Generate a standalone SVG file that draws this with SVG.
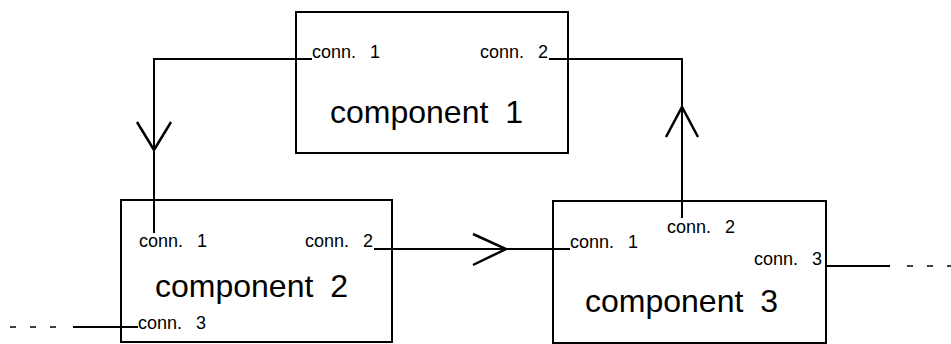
<svg xmlns="http://www.w3.org/2000/svg" width="951" height="344" viewBox="0 0 951 344">
<style>
.box{fill:#fff;stroke:#000;stroke-width:2}
.ln{fill:none;stroke:#000;stroke-width:2}
.dash{fill:none;stroke:#000;stroke-width:1.5;stroke-dasharray:6 14}
.arr{fill:none;stroke:#000;stroke-width:2.5;stroke-linejoin:miter}
.s{font-family:"Liberation Sans",Arial,Helvetica,sans-serif;font-size:18px;word-spacing:9px;fill:#000}
.l{font-family:"Liberation Sans",Arial,Helvetica,sans-serif;font-size:32px;word-spacing:8px;fill:#000}
</style>
<rect width="951" height="344" fill="#fff"/>
<g id="component1">
<rect class="box" x="296" y="12" width="272" height="141"/>
<text class="s" x="312" y="58">conn. 1</text>
<text class="s" x="548" y="58" text-anchor="end">conn. 2</text>
<text class="l" x="330" y="123">component 1</text>
</g>
<g id="component2">
<rect class="box" x="121" y="200" width="271" height="142"/>
<text class="s" x="139" y="247">conn. 1</text>
<text class="s" x="373" y="247" text-anchor="end">conn. 2</text>
<text class="s" x="138" y="329">conn. 3</text>
<text class="l" x="155" y="297">component 2</text>
</g>
<g id="component3">
<rect class="box" x="553" y="201" width="273" height="142"/>
<text class="s" x="570" y="248">conn. 1</text>
<text class="s" x="667" y="233">conn. 2</text>
<text class="s" x="822" y="265" text-anchor="end">conn. 3</text>
<text class="l" x="585" y="312">component 3</text>
</g>
<g id="connectors">
<polyline class="ln" points="312,59 154,59 154,233"/>
<polyline class="arr" points="137,122 154,150 171,122"/>
<polyline class="ln" points="682,218 682,59 549,59"/>
<polyline class="arr" points="666,137 682,107 698,137"/>
<line class="ln" x1="374" y1="249" x2="570" y2="249"/>
<polyline class="arr" points="473,234 506,249 473,265"/>
<line class="ln" x1="73" y1="327" x2="138" y2="327"/>
<path class="dash" d="M10 327H62"/>
<line class="ln" x1="826" y1="266" x2="890" y2="266"/>
<path class="dash" d="M907 266H951"/>
</g>
</svg>
